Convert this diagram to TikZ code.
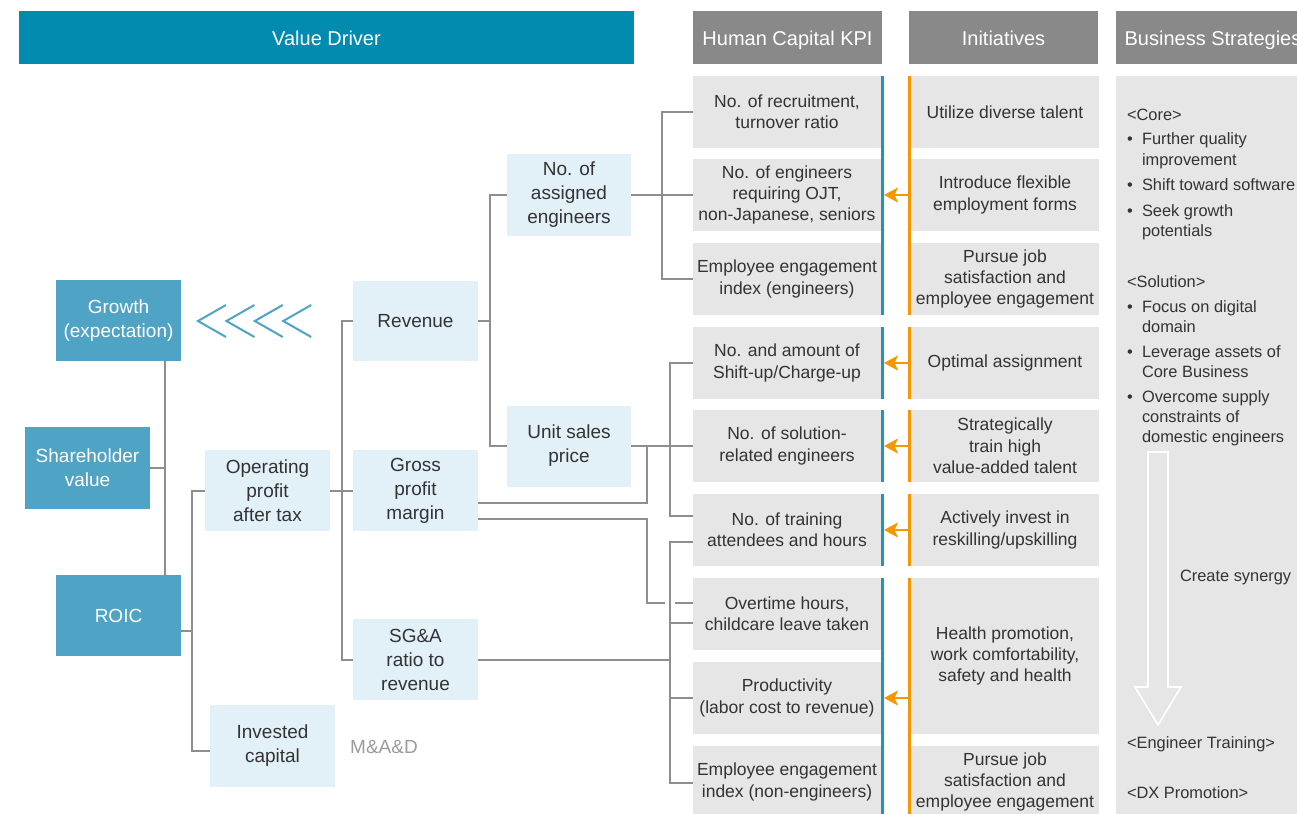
\documentclass[tikz,border=0pt]{standalone}
\usepackage{fontspec}
\setmainfont{Liberation Sans}
\usetikzlibrary{calc,arrows.meta}
\definecolor{vdblue}{HTML}{008BAF}
\definecolor{tealbox}{HTML}{4FA3C4}
\definecolor{lightbox}{HTML}{E2F1F7}
\definecolor{hdgray}{HTML}{898989}
\definecolor{kpigray}{HTML}{E6E6E6}
\definecolor{kpiblue}{HTML}{1A96C0}
\definecolor{iniorange}{HTML}{F39800}
\definecolor{connc}{HTML}{8E8E8E}
\definecolor{txt}{HTML}{333333}
\definecolor{mad}{HTML}{9C9C9C}
\begin{document}
\begin{tikzpicture}[x=1pt,y=-1pt,
  box/.style={inner sep=0pt, outer sep=0pt, align=center, text=txt},
  dbox/.style={box, fill=tealbox, text=white, font=\fontsize{19}{24}\selectfont},
  lbox/.style={box, fill=lightbox, font=\fontsize{19}{24}\selectfont},
  hdr/.style={box, fill=hdgray, text=white, font=\fontsize{20}{24}\selectfont, text height=17pt, text depth=0pt},
  kbox/.style={box, fill=kpigray, font=\fontsize{17.5}{21.3}\selectfont, minimum width=188pt},
  bstxt/.style={inner sep=0pt, outer sep=0pt, text=txt, font=\fontsize{16.4}{20}\selectfont, anchor=base west},
  conn/.style={draw=connc, line width=2pt},
  blueln/.style={draw=kpiblue, line width=3pt},
  orln/.style={draw=iniorange, line width=3pt},
  oarrow/.style={draw=iniorange, line width=2pt, shorten <=1.5pt, shorten >=3pt,
    -{Stealth[length=14pt,width=15pt,inset=3.5pt]}},
  chev/.style={draw=tealbox, line width=2pt}
]
\useasboundingbox (0,0) rectangle (1297,813);

% headers
\node[hdr, fill=vdblue, minimum width=615pt, minimum height=53pt] (vd) at (326.5,37.5) {Value Driver};
\node[hdr, minimum width=189pt, minimum height=53pt] (hck) at (787.5,37.5) {Human Capital KPI};
\node[hdr, minimum width=189pt, minimum height=53pt] (hin) at (1003.5,37.5) {Initiatives};
\node[hdr, minimum width=194pt, minimum height=53pt] (hbs) at (1213,37.5) {Business Strategies};

% value driver tree
\node[dbox, minimum width=125pt, minimum height=81pt] (growth) at (118.5,320.5) {Growth\\(expectation)};
\node[dbox, minimum width=125pt, minimum height=82pt] (shv) at (87.5,468) {Shareholder\\value};
\node[dbox, minimum width=125pt, minimum height=81pt] (roic) at (118.5,615.5) {ROIC};
\node[lbox, minimum width=125pt, minimum height=81pt] (opat) at (267.5,490.5) {Operating\\profit\\after tax};
\node[lbox, minimum width=125pt, minimum height=82pt] (inv) at (272.5,746) {Invested\\capital};
\node[inner sep=0pt, text=mad, font=\fontsize{19}{24}\selectfont, anchor=west] (madn) at (350,747) {M\&A\&D};
\node[lbox, minimum width=125pt, minimum height=80pt] (rev) at (415.5,321) {Revenue};
\node[lbox, minimum width=125pt, minimum height=81pt] (gpm) at (415.5,490.5) {Gross\\profit\\margin};
\node[lbox, minimum width=125pt, minimum height=81pt] (sga) at (415.5,659.5) {SG\&A\\ratio to\\revenue};
\node[lbox, minimum width=124pt, minimum height=81pt] (asg) at (569,195) {No. of\\assigned\\engineers};
\node[lbox, minimum width=124pt, minimum height=81pt] (usp) at (569,446) {Unit sales\\price};

% chevrons
\foreach \i in {0,1,2,3}{
  \draw[chev] ({226+28.4*\i},305) -- ({198+28.4*\i},321) -- ({226+28.4*\i},337);
}

% KPI boxes
\node[kbox, minimum height=72pt] (k1) at (787,112) {No. of recruitment,\\turnover ratio};
\node[kbox, minimum height=72pt] (k2) at (787,195) {No. of engineers\\requiring OJT,\\non-Japanese, seniors};
\node[kbox, minimum height=72pt] (k3) at (787,279) {Employee engagement\\index (engineers)};
\node[kbox, minimum height=72pt] (k4) at (787,363) {No. and amount of\\Shift-up/Charge-up};
\node[kbox, minimum height=72pt] (k5) at (787,446) {No. of solution-\\related engineers};
\node[kbox, minimum height=72pt] (k6) at (787,530) {No. of training\\attendees and hours};
\node[kbox, minimum height=72pt] (k7) at (787,614) {Overtime hours,\\childcare leave taken};
\node[kbox, minimum height=72pt] (k8) at (787,698) {Productivity\\(labor cost to revenue)};
\node[kbox, minimum height=72pt] (k9) at (787,782) {Employee engagement\\index (non-engineers)};

% Initiative boxes
\node[kbox, minimum height=72pt] (i1) at (1005,112) {Utilize diverse talent};
\node[kbox, minimum height=72pt] (i2) at (1005,195) {Introduce flexible\\employment forms};
\node[kbox, minimum height=72pt] (i3) at (1005,279) {Pursue job\\satisfaction and\\employee engagement};
\node[kbox, minimum height=72pt] (i4) at (1005,363) {Optimal assignment};
\node[kbox, minimum height=72pt] (i5) at (1005,446) {Strategically\\train high\\value-added talent};
\node[kbox, minimum height=72pt] (i6) at (1005,530) {Actively invest in\\reskilling/upskilling};
\node[kbox, minimum height=156pt] (i78) at (1005,656) {Health promotion,\\work comfortability,\\safety and health};
\node[kbox, minimum height=72pt] (i9) at (1005,782) {Pursue job\\satisfaction and\\employee engagement};

% Business strategies panel
\node[box, fill=kpigray, minimum width=194pt, minimum height=742pt] (bsp) at (1213,447) {};
\draw[white, line width=1.6pt, line join=miter] (1148,452) -- (1168,452) -- (1168,687) -- (1181,687) -- (1158,725) -- (1135,687) -- (1148,687) -- cycle;
\node[bstxt] (b1) at (1127,121) {<Core>};
\node[bstxt] (b2) at (1127,145) {\textbullet};
\node[bstxt] (b3) at (1142,145) {Further quality};
\node[bstxt] (b4) at (1142,165) {improvement};
\node[bstxt] (b5) at (1127,190) {\textbullet};
\node[bstxt] (b6) at (1142,190) {Shift toward software};
\node[bstxt] (b7) at (1127,216) {\textbullet};
\node[bstxt] (b8) at (1142,216) {Seek growth};
\node[bstxt] (b9) at (1142,236) {potentials};
\node[bstxt] (b10) at (1127,287) {<Solution>};
\node[bstxt] (b11) at (1127,312) {\textbullet};
\node[bstxt] (b12) at (1142,312) {Focus on digital};
\node[bstxt] (b13) at (1142,332) {domain};
\node[bstxt] (b14) at (1127,357) {\textbullet};
\node[bstxt] (b15) at (1142,357) {Leverage assets of};
\node[bstxt] (b16) at (1142,377) {Core Business};
\node[bstxt] (b17) at (1127,402) {\textbullet};
\node[bstxt] (b18) at (1142,402) {Overcome supply};
\node[bstxt] (b19) at (1142,422) {constraints of};
\node[bstxt] (b20) at (1142,442) {domestic engineers};
\node[bstxt] (b21) at (1180,581) {Create synergy};
\node[bstxt] (b22) at (1127,748) {<Engineer Training>};
\node[bstxt] (b23) at (1127,798) {<DX Promotion>};

% blue and orange lines
\draw[blueln] ([xshift=1.5pt]k1.north east) -- ([xshift=1.5pt]k3.south east);
\draw[blueln] ([xshift=1.5pt]k4.north east) -- ([xshift=1.5pt]k4.south east);
\draw[blueln] ([xshift=1.5pt]k5.north east) -- ([xshift=1.5pt]k5.south east);
\draw[blueln] ([xshift=1.5pt]k6.north east) -- ([xshift=1.5pt]k6.south east);
\draw[blueln] ([xshift=1.5pt]k7.north east) -- ([xshift=1.5pt]k9.south east);
\draw[orln] ([xshift=-1.5pt]i1.north west) -- ([xshift=-1.5pt]i3.south west);
\draw[orln] ([xshift=-1.5pt]i4.north west) -- ([xshift=-1.5pt]i4.south west);
\draw[orln] ([xshift=-1.5pt]i5.north west) -- ([xshift=-1.5pt]i5.south west);
\draw[orln] ([xshift=-1.5pt]i6.north west) -- ([xshift=-1.5pt]i6.south west);
\draw[orln] ([xshift=-1.5pt]i78.north west) -- ([xshift=-1.5pt]i9.south west);

% orange arrows
\draw[oarrow] (k2.east -| i2.west) -- (k2.east);
\draw[oarrow] (k4.east -| i4.west) -- (k4.east);
\draw[oarrow] (k5.east -| i5.west) -- (k5.east);
\draw[oarrow] (k6.east -| i6.west) -- (k6.east);
\draw[oarrow] (k8.east -| i78.west) -- (k8.east);

% connector guide coordinates
\coordinate (xa) at (165,0);
\coordinate (xd) at (490,0);
\coordinate (xe) at (662,0);
\coordinate (xf) at (670,0);

% connectors
\draw[conn] (growth.south -| xa) -- (roic.north -| xa);
\draw[conn] (shv.east) -- (shv.east -| xa);
\draw[conn] ($(roic.east)+(0,15.5)$) -- ++(11,0);
\draw[conn] (opat.west) -| ($(inv.west)+(-18,5)$) -- ($(inv.west)+(0,5)$);
\draw[conn] (opat.east) -- (gpm.west);
\draw[conn] (rev.west) -| ($(sga.west)+(-11,0)$) -- (sga.west);
\draw[conn] (rev.east) -- (rev.east -| xd);
\draw[conn] (asg.west) -| (usp.west -| xd) -- (usp.west);
\draw[conn] (asg.east) -- (k2.west);
\draw[conn] (k1.west) -| (k3.west -| xe) -- (k3.west);
\draw[conn] (usp.east) -- (k5.west);
\draw[conn] (k4.west) -| ($(k6.west)+(-23,-14)$) -- ($(k6.west)+(0,-14)$);
\draw[conn] ($(gpm.east)+(0,12.5)$) -| ($(usp.east)+(16,0)$);
\draw[conn] ($(gpm.east)+(0,28.5)$) -| ($(k7.west)+(-46,-11)$) -- ($(k7.west)+(-28,-11)$);
\draw[conn] ($(k7.west)+(-18,-11)$) -- ($(k7.west)+(0,-11)$);
\draw[conn] (sga.east) -- (sga.east -| xf);
\draw[conn] ($(k6.west)+(0,12)$) -| ($(k9.west)+(-23,1)$) -- ($(k9.west)+(0,1)$);
\draw[conn] ($(k7.west)+(0,9)$) -- ++(-23,0);
\draw[conn] (k8.west) -- ++(-23,0);
\end{tikzpicture}
\end{document}
